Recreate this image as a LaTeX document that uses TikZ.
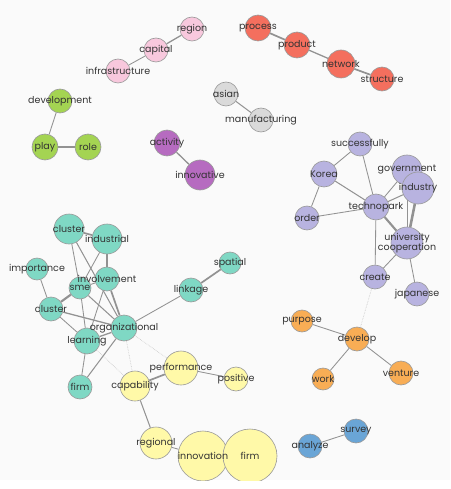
\documentclass[tikz,border=0pt]{standalone}
\usepackage{fontspec}
\setmainfont{Poppins}
\usetikzlibrary{backgrounds}

\definecolor{pinkc}{HTML}{F8C8DD}
\definecolor{redc}{HTML}{F46F5E}
\definecolor{greyc}{HTML}{DADADA}
\definecolor{greenc}{HTML}{A4D452}
\definecolor{purplec}{HTML}{B66BC0}
\definecolor{lavc}{HTML}{B8B3E0}
\definecolor{orangec}{HTML}{F8AD55}
\definecolor{bluec}{HTML}{6AA5D6}
\definecolor{tealc}{HTML}{7FD8C4}
\definecolor{yellowc}{HTML}{FFF9A8}
\definecolor{edgecolor}{HTML}{929292}
\definecolor{textcolor}{HTML}{333333}

\begin{document}
\begin{tikzpicture}[x=1pt, y=-1pt,
    term/.style={circle, draw=gray!80, line width=0.6pt, inner sep=0pt},
    termtext/.style={text=textcolor, font=\fontsize{9.5}{10.5}\selectfont,
        align=center, inner sep=0pt},
    link/.style={draw=edgecolor, line width=#1*0.85pt},
    weaklink/.style={draw=gray!45, line width=0.6pt, densely dotted}
    ]

    \useasboundingbox (0,0) rectangle (450,489);

    \newcommand{\termlist}{
        region/192/29/12/pinkc/region,
        capital/156/50/12/pinkc/capital,
        infrastructure/118/71/12/pinkc/infrastructure,
        process/258/28/13/redc/process,
        product/297/45/13/redc/product,
        network/341/64/14/redc/network,
        structure/382/79/12/redc/structure,
        asian/226/94/12/greyc/asian,
        manufacturing/261/120/12/greyc/manufacturing,
        development/60/101/12/greenc/development,
        play/45/147/13/greenc/play,
        role/88/147/13/greenc/role,
        activity/167/143/13/purplec/activity,
        innovative/200/175/15/purplec/innovative,
        successfully/360/144/12/lavc/successfully,
        korea/324/174/13/lavc/Korea,
        government/407/170/15/lavc/government,
        industry/418/188/16/lavc/industry,
        technopark/376/207/13/lavc/technopark,
        order/307/218/12/lavc/order,
        university/407/243/16/lavc/{university\\cooperation},
        create/375/277/12/lavc/create,
        japanese/417/294/12/lavc/japanese,
        purpose/302/321/11/orangec/purpose,
        develop/357/339/12/orangec/develop,
        work/323/379/11/orangec/work,
        venture/401/373/12/orangec/venture,
        survey/356/431/12/bluec/survey,
        analyze/310/446/12/bluec/analyze,
        clustera/69/229/15/tealc/cluster,
        industrial/107/239/15/tealc/industrial,
        importance/37/269/11/tealc/importance,
        involvement/107/279/12/tealc/involvement,
        sme/80/288/11/tealc/sme,
        clusterb/51/309/12/tealc/cluster,
        organizational/124/328/13/tealc/organizational,
        learning/87/341/13/tealc/learning,
        firma/80/387/12/tealc/firm,
        linkage/191/290/12/tealc/linkage,
        spatial/230/263/11/tealc/spatial,
        capability/135/386/15/yellowc/capability,
        performance/181/368/17/yellowc/performance,
        positive/236/379/12/yellowc/positive,
        regional/156/443/16/yellowc/regional,
        innovation/203/456/25/yellowc/innovation,
        firmb/250/456/27/yellowc/firm}

    \newcommand{\linklist}{
        region/capital/1.5, capital/infrastructure/1,
        process/product/2, product/network/1.5, network/structure/2,
        asian/manufacturing/1.2,
        development/play/1, play/role/2,
        activity/innovative/1.5,
        successfully/korea/1, successfully/technopark/1, korea/order/1,
        korea/technopark/1.2, order/technopark/1, technopark/government/1,
        technopark/industry/1.2, technopark/university/2.5, technopark/create/1,
        government/industry/1, industry/university/3, government/university/1,
        university/create/1, university/japanese/1,
        purpose/develop/1, develop/work/1, develop/venture/1,
        analyze/survey/1,
        clustera/industrial/2, clustera/sme/1, clustera/organizational/1.2,
        industrial/involvement/1.5, industrial/sme/1, importance/clusterb/1,
        sme/clusterb/2.5, sme/involvement/1, sme/organizational/1.2,
        sme/learning/1, involvement/organizational/2, involvement/learning/1,
        clusterb/organizational/1.5, clusterb/learning/1,
        learning/organizational/1.5, learning/firma/1, organizational/firma/1.2,
        organizational/linkage/1, linkage/spatial/2,
        capability/performance/2, performance/positive/1,
        capability/regional/1.2, regional/innovation/1, innovation/firmb/1}

    \newcommand{\weaklist}{
        organizational/capability, organizational/performance,
        learning/capability, create/develop}

    % Define vertices
    \begin{scope}
        \clip (0,0) rectangle (450,480);
        \foreach \nm/\x/\y/\r/\col/\txt in \termlist {
            \node[term, fill=\col, minimum size=2*\r pt] (\nm) at (\x,\y) {};
        }
        % Labels on top of all circles
        \foreach \nm/\x/\y/\r/\col/\txt in \termlist {
            \node[termtext] (\nm-t) at (\nm.center) {\txt};
        }
    \end{scope}

    % Define edges
    \begin{scope}[on background layer]
        \fill[gray!4] (0,0) rectangle (450,480);
        \foreach \a/\b/\w in \linklist {
            \draw[link=\w] (\a) -- (\b);
        }
        \foreach \a/\b in \weaklist {
            \draw[weaklink] (\a) -- (\b);
        }
    \end{scope}
\end{tikzpicture}
\end{document}
